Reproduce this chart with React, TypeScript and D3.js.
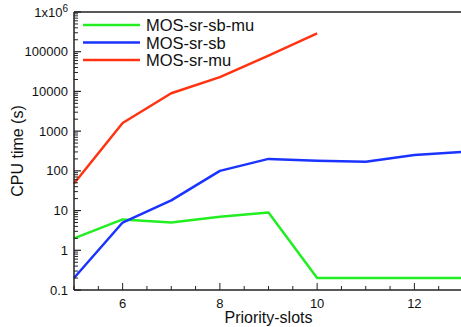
import React, { useRef, useEffect } from "react"
import * as d3 from "d3"

const slots = [5, 6, 7, 8, 9, 10, 11, 12, 13]
const sbMu = [2, 6, 5, 7, 9, 0.2, 0.2, 0.2, 0.2]
const sb = [0.2, 5, 18, 100, 200, 180, 170, 250, 300]
const muSlots = [5, 6, 7, 8, 9, 10]
const mu = [48, 1600, 9000, 23000, 80000, 290000]

const series = [
    { name: "MOS-sr-sb-mu", color: "#22ee22", xs: slots, ys: sbMu },
    { name: "MOS-sr-sb", color: "#1a33ff", xs: slots, ys: sb },
    { name: "MOS-sr-mu", color: "#ff3311", xs: muSlots, ys: mu },
]

const xMajor = [6, 8, 10, 12]
const yMajor = [0.1, 1, 10, 100, 1000, 10000, 100000, 1000000]

export default function App() {
    const svgRef = useRef<SVGSVGElement>(null)

    useEffect(() => {
        if (!svgRef.current) return
        const svg = d3.select(svgRef.current)
        svg.selectAll("*").remove()

        const width = 461
        const height = 327
        const margin = { top: 12, right: -2, bottom: 37, left: 74 }
        const innerWidth = width - margin.left - margin.right
        const innerHeight = height - margin.top - margin.bottom
        const font = "'Liberation Sans', Arial, sans-serif"
        const axisColor = "#222"

        const x = d3.scaleLinear().domain([5, 13]).range([0, innerWidth])
        const y = d3.scaleLog().domain([0.1, 1e6]).range([innerHeight, 0])

        const g = svg.append("g").attr("transform", `translate(${margin.left},${margin.top})`)

        // lines
        const line = d3.line<[number, number]>()
            .x(d => x(d[0]))
            .y(d => y(d[1]))

        series.forEach(s => {
            g.append("path")
                .datum(s.xs.map((v, i) => [v, s.ys[i]] as [number, number]))
                .attr("fill", "none")
                .attr("stroke", s.color)
                .attr("stroke-width", 2.5)
                .attr("stroke-linejoin", "round")
                .attr("d", line)
        })

        // frame
        g.append("line").attr("x1", 0).attr("x2", innerWidth).attr("y1", 0).attr("y2", 0)
            .attr("stroke", axisColor).attr("stroke-width", 1.5)
        g.append("line").attr("x1", 0).attr("x2", innerWidth).attr("y1", innerHeight).attr("y2", innerHeight)
            .attr("stroke", axisColor).attr("stroke-width", 1.5)
        g.append("line").attr("x1", 0).attr("x2", 0).attr("y1", 0).attr("y2", innerHeight)
            .attr("stroke", axisColor).attr("stroke-width", 1.5)

        // x ticks (inward)
        const xMinor = d3.range(5, 13.01, 0.5)
        g.selectAll(".xt").data(xMinor).join("line")
            .attr("x1", d => x(d)).attr("x2", d => x(d))
            .attr("y1", innerHeight)
            .attr("y2", d => innerHeight - (xMajor.includes(d) ? 7 : 4))
            .attr("stroke", axisColor).attr("stroke-width", 1)
        g.selectAll(".xl").data(xMajor).join("text")
            .attr("x", d => x(d)).attr("y", innerHeight + 18)
            .attr("text-anchor", "middle")
            .attr("font-family", font).attr("font-size", 13)
            .attr("fill", "#111")
            .text(d => String(d))

        // y ticks (inward, log minor)
        const yMinor: number[] = []
        yMajor.slice(0, -1).forEach(p => {
            for (let k = 2; k <= 9; k++) yMinor.push(p * k)
        })
        g.selectAll(".ym").data(yMinor).join("line")
            .attr("x1", 0).attr("x2", 4)
            .attr("y1", d => y(d)).attr("y2", d => y(d))
            .attr("stroke", axisColor).attr("stroke-width", 1)
        g.selectAll(".yM").data(yMajor).join("line")
            .attr("x1", 0).attr("x2", 7)
            .attr("y1", d => y(d)).attr("y2", d => y(d))
            .attr("stroke", axisColor).attr("stroke-width", 1.2)

        yMajor.forEach(v => {
            const t = g.append("text")
                .attr("x", -6).attr("y", y(v) + 4.5)
                .attr("text-anchor", "end")
                .attr("font-family", font).attr("font-size", 13)
                .attr("fill", "#111")
            if (v === 1e6) {
                t.append("tspan").text("1x10")
                t.append("tspan").attr("dy", -5).attr("font-size", 10).text("6")
            } else {
                t.text(String(v))
            }
        })

        // axis titles
        g.append("text")
            .attr("x", innerWidth / 2).attr("y", innerHeight + 33)
            .attr("text-anchor", "middle")
            .attr("font-family", font).attr("font-size", 16)
            .attr("fill", "#111")
            .text("Priority-slots")
        g.append("text")
            .attr("transform", `translate(${-margin.left + 23},${innerHeight / 2}) rotate(-90)`)
            .attr("text-anchor", "middle")
            .attr("font-family", font).attr("font-size", 16)
            .attr("fill", "#111")
            .text("CPU time (s)")

        // legend
        const lg = g.append("g").attr("transform", "translate(9,13)")
        series.forEach((s, i) => {
            lg.append("line")
                .attr("x1", 0).attr("x2", 57)
                .attr("y1", i * 17.5).attr("y2", i * 17.5)
                .attr("stroke", s.color).attr("stroke-width", 2.5)
            lg.append("text")
                .attr("x", 63).attr("y", i * 17.5 + 6)
                .attr("font-family", font).attr("font-size", 16.5)
                .attr("fill", "#111")
                .text(s.name)
        })
    }, [])

    return (
        <div style={{ position: "fixed", left: 0, top: 0, width: 461, height: 327, background: "#fff" }}>
            <svg ref={svgRef} width={461} height={327} style={{ display: "block" }} />
        </div>
    )
}
